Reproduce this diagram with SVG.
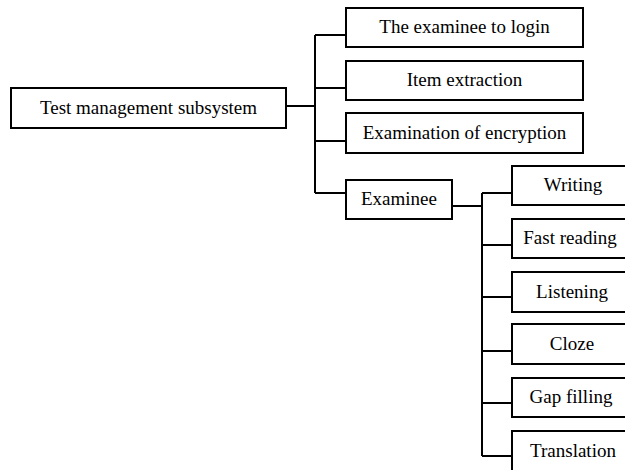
<svg xmlns="http://www.w3.org/2000/svg" width="625" height="470" viewBox="0 0 625 470">
<style>
rect{fill:#fff;stroke:#000;stroke-width:2}
text{font-size:19px;fill:#000;text-anchor:middle}
#connectors path{fill:none;stroke:#000;stroke-width:2}
</style>
<rect x="0" y="0" width="625" height="470" style="fill:#fff;stroke:none"/>
<g id="connectors">
<path d="M286,106H315M315,35V193M315,35H346M315,88H346M315,141H346M315,193H346"/>
<path d="M452,206H482M482,193V456M482,193H512M482,245H512M482,297H512M482,351H512M482,403H512M482,456H512"/>
</g>
<g font-family="Liberation Serif, Times New Roman, DejaVu Serif, serif">
<g id="root"><rect x="11" y="88" width="275" height="40"/><text x="148.5" y="114">Test management subsystem</text></g>
<g id="login"><rect x="346" y="8" width="237" height="39"/><text x="464.5" y="33">The examinee to login</text></g>
<g id="item"><rect x="346" y="61" width="237" height="39"/><text x="464.5" y="86">Item extraction</text></g>
<g id="encryption"><rect x="346" y="113" width="237" height="40"/><text x="464.5" y="139">Examination of encryption</text></g>
<g id="examinee"><rect x="346" y="180" width="106" height="39"/><text x="399" y="205">Examinee</text></g>
<g id="writing"><rect x="512" y="166" width="122" height="39"/><text x="573" y="191">Writing</text></g>
<g id="fastreading"><rect x="512" y="219" width="122" height="39"/><text x="570" y="244">Fast reading</text></g>
<g id="listening"><rect x="512" y="272" width="122" height="40"/><text x="572" y="298">Listening</text></g>
<g id="cloze"><rect x="512" y="324" width="122" height="40"/><text x="572" y="350">Cloze</text></g>
<g id="gapfilling"><rect x="512" y="378" width="122" height="39"/><text x="571" y="403">Gap filling</text></g>
<g id="translation"><rect x="512" y="431" width="122" height="42"/><text x="573" y="457">Translation</text></g>
</g>
</svg>
